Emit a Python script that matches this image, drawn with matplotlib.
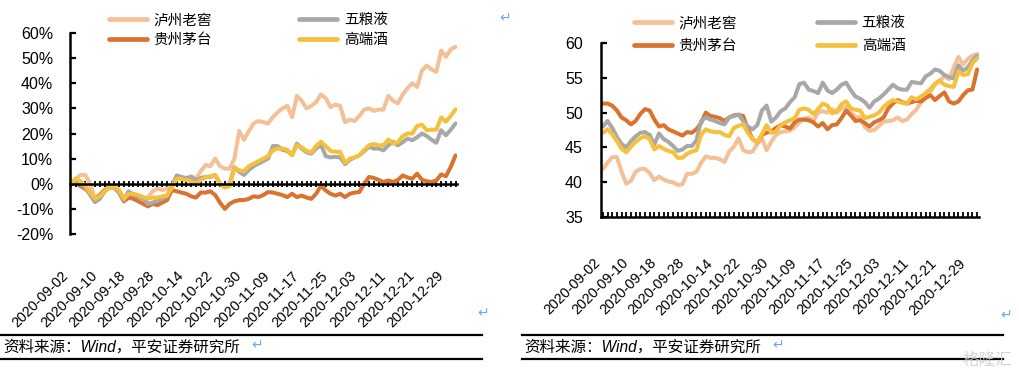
import numpy as np
import pandas as pd
import matplotlib
matplotlib.use("Agg")
import matplotlib.pyplot as plt
from matplotlib.lines import Line2D

plt.rcParams["font.family"] = ["Liberation Sans", "Noto Sans CJK SC", "DejaVu Sans"]
plt.rcParams["axes.unicode_minus"] = False

# ---- trading days 2020-09-02 .. 2020-12-31 (National Day holiday removed) ----
days = pd.bdate_range("2020-09-02", "2020-12-31")
days = days[(days < "2020-10-01") | (days > "2020-10-08")]
DATES = [d.strftime("%Y-%m-%d") for d in days]
TICK_EVERY = 6

NAMES = ["泸州老窖", "贵州茅台", "五粮液", "高端酒"]
COLORS = ["#F3C098", "#DB7330", "#A8A8A8", "#F5C03C"]

# ---- left: cumulative return since 2020-09-02 (%) ----
ret_lzlj = [0, 2, 3.5, 3.5, 0, -6, -5, -3, -1, -1.5, -3, -6, -4, -4.5, -5.5, -6, -5.5, -3, -2, -2.5,
            -2, -1, 3, 2.5, 2, 3, 2, 5, 7.5, 7, 10, 7, 6, 6, 10, 21, 17.5, 21, 24, 25,
            24.5, 24, 26.5, 28.5, 30, 31, 26.5, 35, 33, 30, 31, 32.5, 35.5, 34, 30.5, 31.5, 31, 24.5, 25.5, 25,
            27, 29.5, 30, 29, 29.5, 29.5, 35, 33, 32, 35.5, 38, 40, 38.5, 45, 47, 45.5, 44.5, 53, 50.5, 53.5,
            54.5]
ret_gzmt = [0, 0.5, -1, -2, -4, -6, -4.5, -2.5, -1.5, -1.5, -3.5, -7, -5.5, -6, -7, -8, -9, -8, -8.5, -7.5,
            -6.5, -2.5, -3, -3.5, -4, -5, -5.5, -3.5, -3.5, -3, -4.5, -7.5, -10, -8, -7, -6.5, -6.5, -6, -5, -5.3,
            -4.5, -3.3, -3.5, -4, -4.5, -5.3, -4, -5.3, -4.7, -5.5, -6, -4, -0.7, -2.7, -4, -4.7, -4, -5.3, -4, -3.5,
            -3.3, 0, 2.7, 2.3, 1.5, 0.7, 1.3, 0.7, 1.5, 3.3, 2.5, 2, 4, 1.6, 1, 0.7, 1.3, 3.7, 3, 6.7,
            11.3]
ret_wly = [0, 1.3, 0, -1.3, -4.5, -7.3, -6, -3, -1.3, -1.3, -3.5, -6.5, -3, -4.5, -5, -6, -8, -7.5, -6.7, -6,
           -5, -1, 3.3, 2.7, 2.3, 2.7, 1.3, 2.3, 2.7, 2.7, 3.5, 0, -1.3, 0, 6.5, 4.7, 3.5, 5.5, 7, 8,
           9, 10, 15, 15, 13.5, 13, 11.5, 16, 14, 12.5, 12, 14, 15.5, 11, 10.5, 10.7, 10.5, 7.8, 9.5, 10.5,
           11.3, 13, 14.7, 14, 14, 13.3, 15.3, 16.7, 15.3, 16.5, 18, 17.3, 18.5, 20, 19, 17.5, 16.3, 21.3, 19.3, 21.5,
           24]
ret_high = [0, 2, 1, -0.7, -3.5, -6, -5, -3, -1.3, -1.3, -2.5, -6, -4, -4, -4.5, -5.3, -6, -5.5, -5.5, -5,
            -4.7, -1.5, 2, 2, 1.5, 1, 0, 1.5, 2.5, 3, 3.5, 0, -1.5, -1, 6.5, 5.3, 5, 7, 8, 9,
            10, 11, 13.3, 14, 14, 13.5, 11.3, 15.3, 14.5, 13, 12.5, 15, 16.7, 15, 13, 12.7, 12.7, 8.3, 10, 10.5,
            11.3, 13.5, 15.3, 15.8, 15.3, 15.3, 17.6, 16, 16.5, 19, 20, 20, 23, 23.5, 21.3, 21.5, 21.5, 26.4, 24.7, 27,
            29.6]

# ---- right: PE (TTM) ----
pe_lzlj = [41.9, 42.8, 43.6, 43.6, 41.5, 39.8, 40.2, 41.5, 41.9, 41.9, 41.3, 40.3, 40.8, 40.4, 40.1, 40, 39.6, 39.7, 41.2, 41.2,
           41.5, 42.8, 43.7, 43.5, 43.5, 43.3, 42.9, 44.4, 45.1, 46.3, 44.6, 44.3, 44.4, 45.5, 46.3, 44.6, 45.8, 46.8, 47.2, 47.3,
           47.4, 47.9, 48.6, 49.1, 49.3, 48.8, 50, 50.2, 50, 50.5, 50, 50.6, 50.8, 50, 49.4, 49.3, 47.9, 47.4, 47.5, 48.1,
           48.7, 48.8, 48.9, 49.3, 48.8, 49, 49.8, 50.4, 51.5, 52.1, 53, 54, 54.6, 55.2, 54.8, 56.5, 58, 56.9, 57.7, 58.2,
           58.4]
pe_gzmt = [51.3, 51.3, 51, 50.3, 49.3, 48.9, 48.3, 48.8, 49.8, 50.5, 50.3, 49, 48, 48.2, 47.6, 47.3, 47, 46.7, 47.2, 47.1,
           47.6, 48.5, 50, 49.5, 49.4, 49.2, 48.8, 49.3, 49.6, 49.7, 49.5, 47.6, 46.2, 45.7, 46.8, 47.1, 47.3, 47.8, 48.2, 48,
           47.7, 48.6, 49, 49, 48.9, 48.6, 48, 48.5, 47.6, 48.2, 48.3, 49.2, 50.3, 49.6, 48.8, 48.9, 48.5, 48, 48.6, 48.9,
           49.3, 50.6, 51.3, 51.8, 51.5, 51.3, 51.5, 51.7, 51.6, 52.1, 52.5, 51.8, 52.4, 52.9, 51.6, 51.3, 51.6, 52.5, 53.2, 53.3,
           56.2]
pe_wly = [48, 48.8, 47.8, 46.5, 45.5, 45, 45.9, 46.6, 47.1, 47.2, 46.8, 45.4, 47, 46.2, 45.8, 45.2, 44.5, 44.7, 45.2, 45.2,
          46, 48.8, 49.3, 49, 48.8, 48.5, 48.3, 49.3, 49.5, 49.7, 48.8, 48, 47.6, 48.2, 50.3, 51, 48.7, 49.3, 50.2, 50.6,
          51.5, 52.2, 54.1, 54.3, 53.3, 53.1, 52.8, 54.3, 53.2, 52.8, 53.3, 54, 54.3, 53.2, 52.3, 52, 51.5, 50.7, 51.6, 52,
          52.6, 53.3, 54, 53.5, 53.3, 53.3, 54.4, 54.3, 54.2, 55.2, 55.6, 56.2, 56, 55.4, 55.1, 54.9, 56.8, 56, 56.5, 57.5,
          58.2]
pe_high = [47.1, 47.6, 46.9, 45.9, 44.8, 44.3, 45.1, 45.8, 46.3, 46.6, 46.2, 44.7, 45.2, 44.8, 44.5, 44.3, 43.5, 43.5, 44.1, 44.4,
           44.6, 46.8, 47.6, 47.3, 47.2, 47.2, 46.8, 46.6, 47.8, 48.1, 48.3, 47.1, 46.2, 45.7, 46.9, 48.2, 47.1, 47.3, 48.2, 48.6,
           48.9, 49.2, 50.4, 50.6, 50.4, 49.8, 50.5, 51.3, 51, 49.9, 50.2, 51.2, 51.6, 50.6, 50.4, 50.3, 49.2, 49.4, 49.6, 50,
           50.8, 51.4, 51.8, 51.6, 51.4, 51.3, 52.2, 51.9, 52.3, 52.8, 53.4, 54.2, 54.6, 54, 53.8, 53.7, 55.9, 55.4, 55.5, 57.1,
           57.8]

L_YTICKS = [-20, -10, 0, 10, 20, 30, 40, 50, 60]
R_YTICKS = [35, 40, 45, 50, 55, 60]

CJK = ["Noto Sans CJK SC", "DejaVu Sans"]
FS = 11.5     # y tick labels
XFS = 10.4    # rotated date labels

fig = plt.figure(figsize=(10.2, 3.76), dpi=100)
W, H = 1020.0, 376.0


def px_axes(x0, y0, x1, y1):
    # pixel box (top-left origin) -> figure fraction
    return fig.add_axes([x0 / W, 1 - y1 / H, (x1 - x0) / W, (y1 - y0) / H])


def draw_lines(ax, series):
    x = np.arange(len(DATES))
    for vals, c in zip(series, COLORS):
        ax.plot(x, vals, color=c, lw=2.9, solid_joinstyle="round", solid_capstyle="round")


def style_common(ax):
    for s in ["top", "right"]:
        ax.spines[s].set_visible(False)
    ax.spines["left"].set_linewidth(1.8)
    ax.tick_params(axis="y", direction="in", length=4, width=1.6, labelsize=FS, pad=12)


def add_legend(ax, anchor, rowgap, colgap):
    handles = [Line2D([], [], color=c, lw=3.4, solid_capstyle="round") for c in COLORS]
    ax.legend(handles, NAMES, ncol=2, loc="upper left", bbox_to_anchor=anchor,
              bbox_transform=fig.transFigure, frameon=False, handlelength=2.6,
              handletextpad=0.45, columnspacing=colgap, labelspacing=rowgap,
              prop={"family": CJK, "size": 10.5}, borderaxespad=0, borderpad=0)


tick_idx = list(range(0, len(DATES), TICK_EVERY))
tick_lab = [DATES[i] for i in tick_idx]

# ---------------- left panel ----------------
axL = px_axes(70, 33, 457, 234)
draw_lines(axL, [ret_lzlj, ret_gzmt, ret_wly, ret_high])
style_common(axL)
axL.set_ylim(-20, 60)
axL.set_xlim(-0.2, 80.3)
axL.set_yticks(L_YTICKS)
axL.set_yticklabels([f"{v}%" for v in L_YTICKS])
axL.spines["bottom"].set_position(("data", 0))
axL.spines["bottom"].set_linewidth(1.8)
axL.set_xticks(range(len(DATES)))
axL.tick_params(axis="x", direction="inout", length=5, width=1.3, labelbottom=False)
secL = axL.secondary_xaxis(0.0)
secL.spines["bottom"].set_visible(False)
secL.set_xticks(tick_idx)
secL.set_xticklabels(tick_lab, rotation=45, ha="right", va="top")
secL.tick_params(axis="x", length=0, pad=25, labelsize=XFS)
add_legend(axL, (109 / W, 1 - 13 / H), 0.4, 6.0)

# ---------------- right panel ----------------
axR = px_axes(601, 43, 979, 217)
draw_lines(axR, [pe_lzlj, pe_gzmt, pe_wly, pe_high])
style_common(axR)
axR.set_ylim(35, 60)
axR.set_xlim(-0.4, 80.4)
axR.set_yticks(R_YTICKS)
axR.tick_params(axis="y", pad=13)
axR.spines["bottom"].set_linewidth(1.8)
axR.set_xticks(range(len(DATES)))
axR.set_xticklabels([DATES[i] if i % TICK_EVERY == 0 else "" for i in range(len(DATES))],
                    rotation=45, ha="right", va="top")
axR.tick_params(axis="x", direction="in", length=3.5, width=1.3, pad=28, labelsize=XFS)
add_legend(axR, (634 / W, 1 - 16 / H), 0.6, 5.5)

# ---------------- source notes ----------------
for x0, x1 in [(0, 482), (522, 1003)]:
    for y in (335, 359):
        fig.add_artist(Line2D([x0 / W, x1 / W], [1 - y / H, 1 - y / H], color="black", lw=1.6))
src = "资料来源：Wind，平安证券研究所"
for x in (3, 524):
    fig.text(x / W, 1 - 347 / H, src, fontsize=11.2, style="italic", va="center", ha="left",
             family=["Liberation Sans", "Noto Sans CJK SC"])

# paragraph marks left over from the document
for x, y in [(505, 18), (483, 313), (1006, 315), (257, 345), (778, 345)]:
    fig.text(x / W, 1 - y / H, "↵", color="#6FA8F0", fontsize=10, ha="center", va="center",
             family="DejaVu Sans")

fig.text(1012 / W, 1 - 360 / H, "格隆汇", color="#D0D0D0", fontsize=12, ha="right", va="center",
         family=CJK, alpha=0.9)

fig.savefig("out.png", dpi=100)
